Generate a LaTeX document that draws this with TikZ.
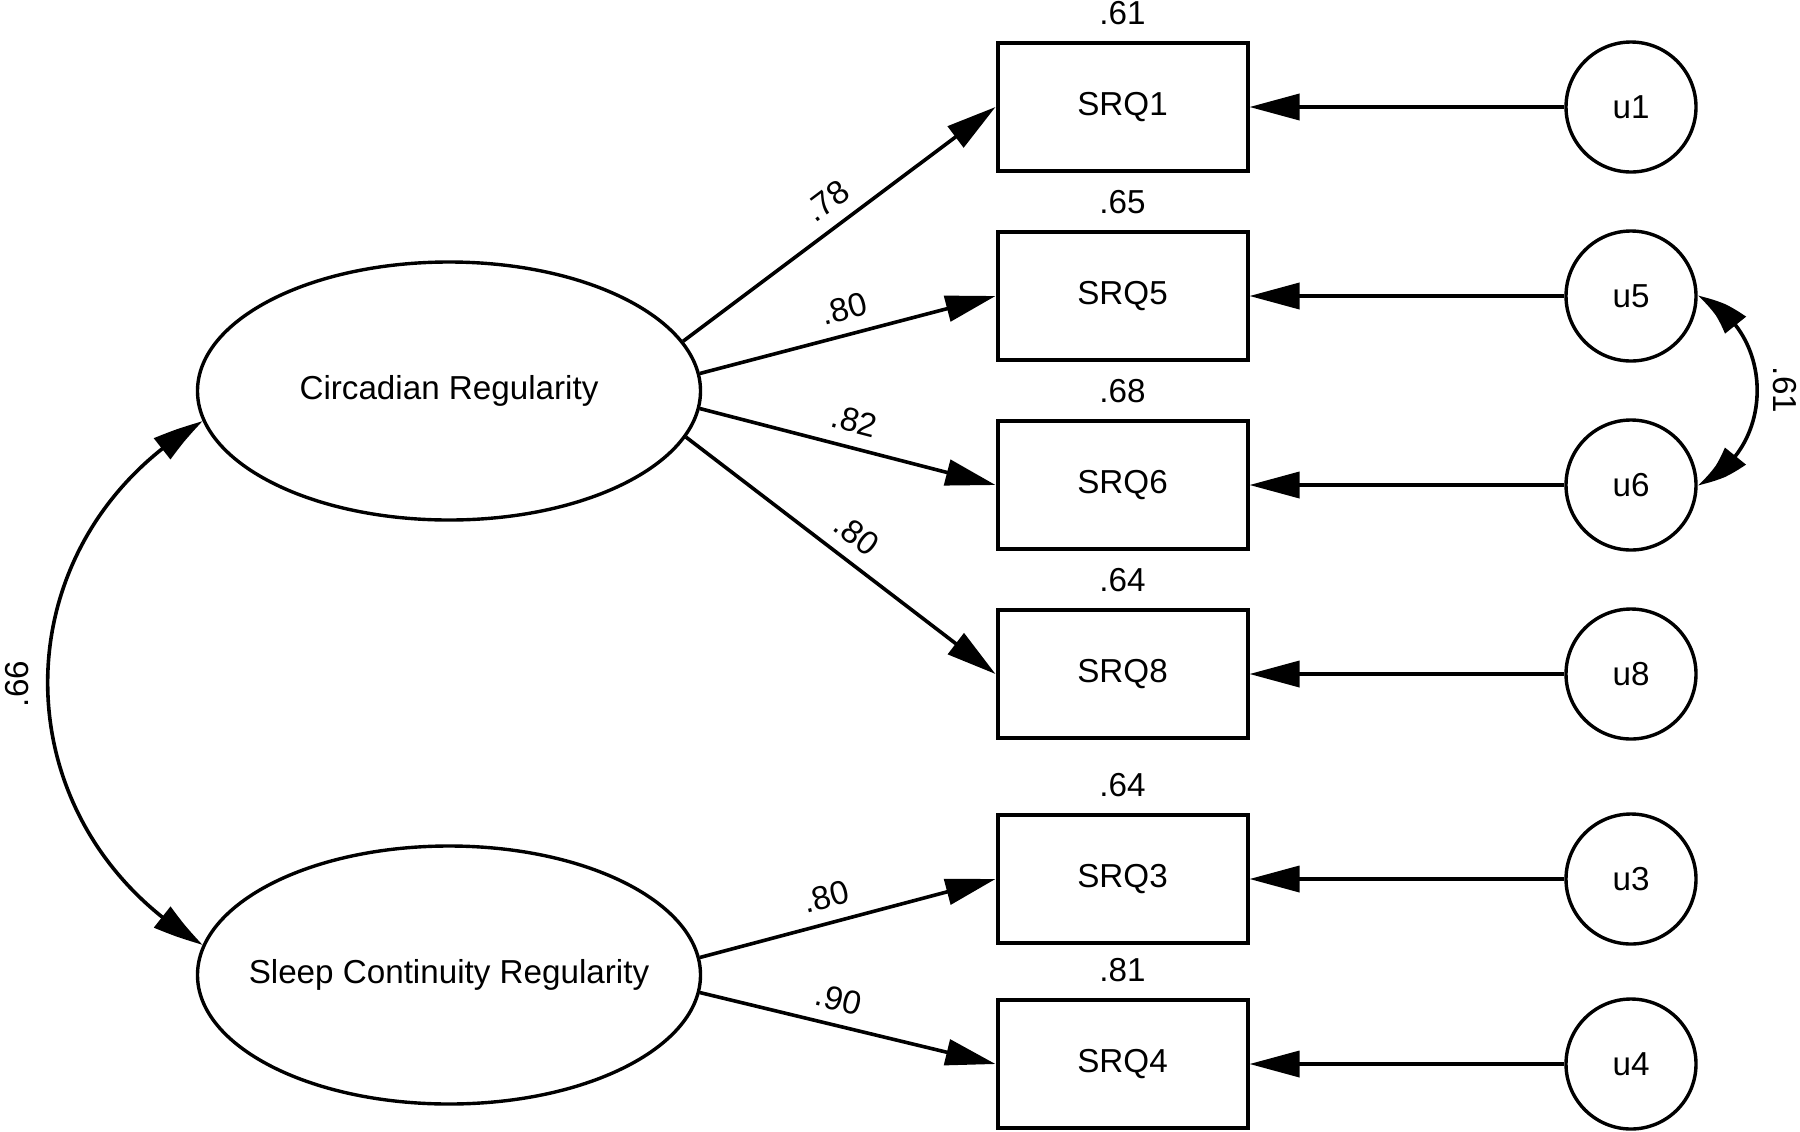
\documentclass[tikz,border=0pt]{standalone}
\usepackage{fontspec}
\setmainfont{Liberation Sans}
\usetikzlibrary{arrows.meta,shapes.geometric,bending}
\begin{document}
\begin{tikzpicture}[x=0.5pt,y=-0.5pt,
  txt/.style={font=\fontsize{16.6pt}{19pt}\selectfont},
  latent/.style={ellipse, draw, line width=1.7pt, minimum width=251.5pt, minimum height=129pt, inner sep=0pt, txt},
  obs/.style={rectangle, draw, line width=2pt, minimum width=125pt, minimum height=64pt, inner sep=0pt, txt},
  err/.style={circle, draw, line width=1.7pt, minimum size=65pt, inner sep=0pt, txt},
  load/.style={line width=1.8pt, -{Triangle[length=25pt,width=13pt]}},
  cov/.style={line width=1.8pt, {Triangle[length=25pt,width=13pt,bend]}-{Triangle[length=25pt,width=13pt,bend]}},
  coef/.style={txt, sloped, above=3pt},
  rsq/.style={txt, anchor=south, inner sep=0pt}
]
\fill[white] (0,0) rectangle (1800,1131);
\useasboundingbox (0,0) rectangle (1800,1131);

% latent variables
\node[latent] (C) at (449,391) {\makebox[0pt]{Circadian Regularity}};
\node[latent] (S) at (449,975) {\makebox[0pt]{Sleep Continuity Regularity}};

% observed variables
\node[obs] (SRQ1) at (1122.5,107) {SRQ1};
\node[obs] (SRQ5) at (1122.5,296) {SRQ5};
\node[obs] (SRQ6) at (1122.5,485) {SRQ6};
\node[obs] (SRQ8) at (1122.5,674) {SRQ8};
\node[obs] (SRQ3) at (1122.5,879) {SRQ3};
\node[obs] (SRQ4) at (1122.5,1064) {SRQ4};

% errors
\node[err] (u1) at (1631,107) {u1};
\node[err] (u5) at (1631,296) {u5};
\node[err] (u6) at (1631,485) {u6};
\node[err] (u8) at (1631,674) {u8};
\node[err] (u3) at (1631,879) {u3};
\node[err] (u4) at (1631,1064) {u4};

% R squared labels
\node[rsq] (r1) at ([yshift=8pt]SRQ1.north) {.61};
\node[rsq] (r5) at ([yshift=8pt]SRQ5.north) {.65};
\node[rsq] (r6) at ([yshift=8pt]SRQ6.north) {.68};
\node[rsq] (r8) at ([yshift=8pt]SRQ8.north) {.64};
\node[rsq] (r3) at ([yshift=8pt]SRQ3.north) {.64};
\node[rsq] (r4) at ([yshift=8pt]SRQ4.north) {.81};

% loadings
\draw[load] (C.12) -- node[coef, pos=0.51] {.78} (SRQ1.west);
\draw[load] (C.4.5) -- node[coef, pos=0.51] {.80} (SRQ5.west);
\draw[load] (C.-4.5) -- node[coef, pos=0.50] {.82} (SRQ6.west);
\draw[load] (C.-11.5) -- node[coef, pos=0.50] {.80} (SRQ8.west);
\draw[load] (S.4.3) -- node[coef, pos=0.45] {.80} (SRQ3.west);
\draw[load] (S.-4.3) -- node[coef, pos=0.45] {.90} (SRQ4.west);

% error paths
\draw[load] (u1.west) -- (SRQ1.east);
\draw[load] (u5.west) -- (SRQ5.east);
\draw[load] (u6.west) -- (SRQ6.east);
\draw[load] (u8.west) -- (SRQ8.east);
\draw[load] (u3.west) -- (SRQ3.east);
\draw[load] (u4.west) -- (SRQ4.east);

% covariances
\draw[cov] (C.187) .. controls (-4,541) and (-4,824) .. (S.173);
\node[txt, rotate=90] (c66) at (17,684) {.66};
\draw[cov] (u5.east) .. controls (1777,330) and (1777,451) .. (u6.east);
\node[txt, rotate=-90] (c61) at (1785,390) {.61};
\end{tikzpicture}
\end{document}
